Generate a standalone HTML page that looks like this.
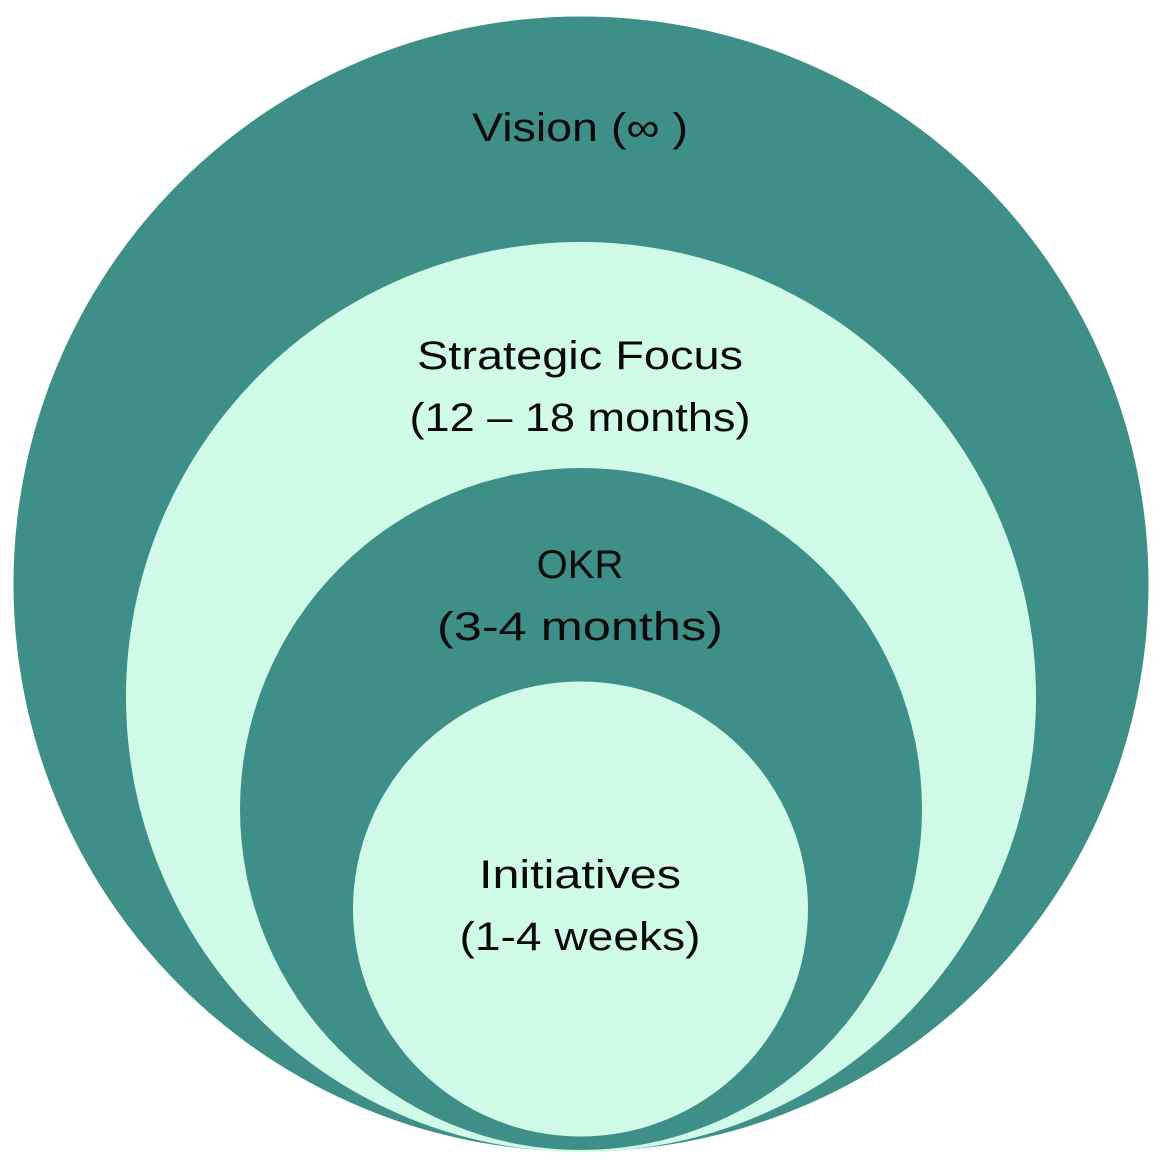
<!DOCTYPE html>
<html><head><meta charset="utf-8"><style>
html,body{margin:0;padding:0;background:#fff;}
svg{display:block}
text{font-family:"Liberation Sans","DejaVu Sans",sans-serif;font-size:40px;fill:#0a0a0a;text-anchor:middle;}
</style></head><body>
<svg width="1170" height="1166" viewBox="0 0 1170 1166" xmlns="http://www.w3.org/2000/svg">
<rect width="1170" height="1166" fill="#fff"/>
<circle cx="581" cy="584" r="567.5" fill="#3f8f89"/>
<circle cx="581" cy="697" r="455" fill="#d0fbe8"/>
<circle cx="581" cy="809" r="341" fill="#3f8f89"/>
<circle cx="580.5" cy="909" r="227.5" fill="#d0fbe8"/>
<text x="580" y="141" textLength="216" lengthAdjust="spacingAndGlyphs">Vision (∞ )</text>
<text x="580" y="369" textLength="326" lengthAdjust="spacingAndGlyphs">Strategic Focus</text>
<text x="580" y="431" textLength="341" lengthAdjust="spacingAndGlyphs">(12 – 18 months)</text>
<text x="580" y="578">OKR</text>
<text x="580" y="640" textLength="286" lengthAdjust="spacingAndGlyphs">(3-4 months)</text>
<text x="580" y="888" textLength="202" lengthAdjust="spacingAndGlyphs">Initiatives</text>
<text x="580" y="950" textLength="241" lengthAdjust="spacingAndGlyphs">(1-4 weeks)</text>
</svg>
</body></html>
